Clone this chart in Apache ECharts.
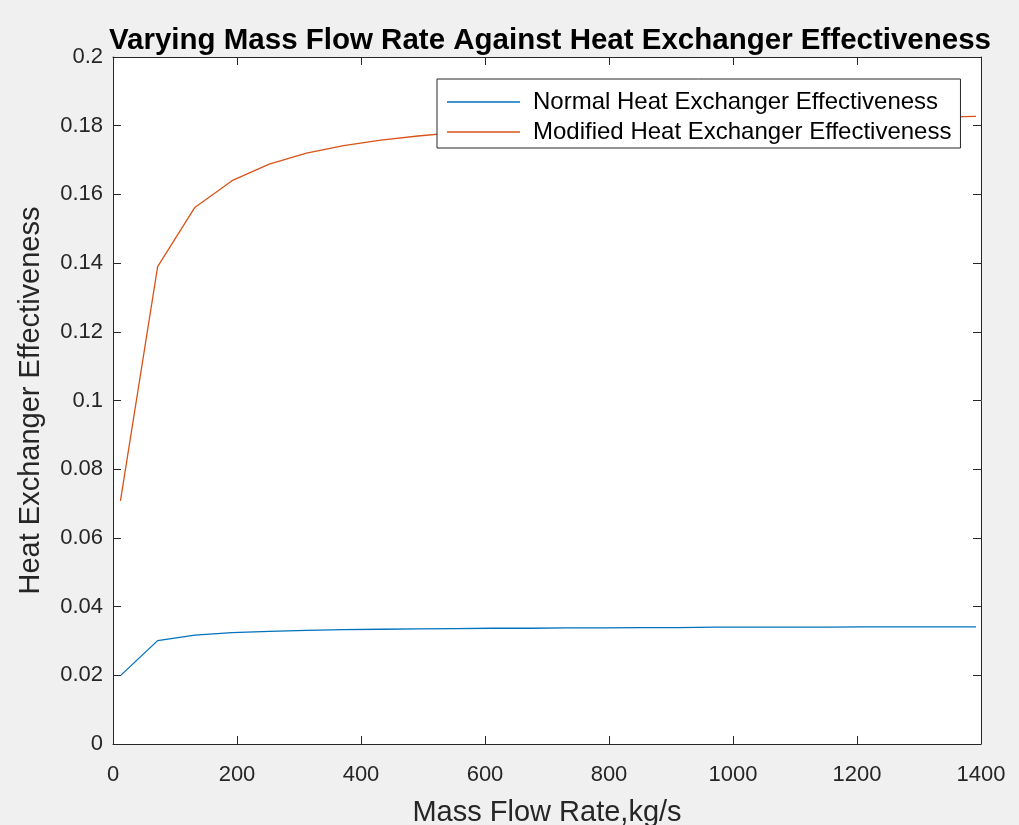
<!DOCTYPE html>
<html>
<head>
<meta charset="utf-8">
<script src="https://cdn.jsdelivr.net/npm/echarts@6/dist/echarts.min.js"></script>
<style>
html,body{margin:0;padding:0;background:#f0f0f0;}
#chart{width:1019px;height:825px;}
</style>
</head>
<body>
<div id="chart"></div>
<script>
const massFlow = [12,72,132,192,252,312,372,432,492,552,612,672,732,792,852,912,972,1032,1092,1152,1212,1272,1332,1392];
const normalEff = [0.0199,0.0301,0.0317,0.0324,0.0328,0.0331,0.0333,0.0334,0.0335,0.0336,0.0337,0.0337,0.0338,0.0338,0.0339,0.0339,0.0340,0.0340,0.0340,0.0340,0.0341,0.0341,0.0341,0.0341];
const modifiedEff = [0.0708,0.1390,0.1562,0.1640,0.1688,0.1720,0.1742,0.1758,0.1770,0.1780,0.1787,0.1793,0.1798,0.1802,0.1806,0.1810,0.1813,0.1816,0.1818,0.1820,0.1822,0.1824,0.1825,0.1827];
const seriesNames = ['Normal Heat Exchanger Effectiveness','Modified Heat Exchanger Effectiveness'];
const titleText = 'Varying Mass Flow Rate Against Heat Exchanger Effectiveness';
const xName = 'Mass Flow Rate,kg/s';
const yName = 'Heat Exchanger Effectiveness';

const ink = '#262626';
const font = 'Liberation Sans, Arial, Helvetica, sans-serif';
const chart = echarts.init(document.getElementById('chart'));
const pair = (xs, ys) => xs.map((x, i) => [x, ys[i]]);
const baseX = {type:'value', min:0, max:1400, interval:200,
  axisLine:{show:true, onZero:false, lineStyle:{color:ink, width:1}},
  axisTick:{show:true, inside:true, length:8, lineStyle:{color:ink}},
  splitLine:{show:false}};
const baseY = {type:'value', min:0, max:0.2, interval:0.02,
  axisLine:{show:true, onZero:false, lineStyle:{color:ink, width:1}},
  axisTick:{show:true, inside:true, length:8, lineStyle:{color:ink}},
  splitLine:{show:false}};
chart.setOption({
  backgroundColor:'#f0f0f0',
  animation:false,
  title:{text:titleText, left:545, textAlign:'center', top:21,
    textStyle:{fontFamily:font, fontSize:29.5, fontWeight:'bold', color:'#000'}},
  grid:{left:113, right:38, top:57, bottom:81, show:true, backgroundColor:'#ffffff', borderWidth:0,
    containLabel:false, outerBoundsMode:'none'},
  legend:{left:437, top:79, orient:'vertical', icon:'rect', itemWidth:73, itemHeight:1.5, itemGap:6,
    padding:[11,9,4,10], borderColor:ink, borderWidth:1, backgroundColor:'#ffffff', borderRadius:0,
    textStyle:{fontFamily:font, fontSize:24, lineHeight:24, color:'#000', padding:[0,0,0,8]},
    data:seriesNames},
  xAxis:[
    Object.assign({}, baseX, {position:'bottom', name:xName, nameLocation:'middle', nameGap:54,
      nameTextStyle:{fontFamily:font, fontSize:29, color:ink},
      axisLabel:{fontFamily:font, fontSize:22, color:ink, margin:20, formatter:(v)=>String(v)}}),
    Object.assign({}, baseX, {position:'top', axisLabel:{show:false}})
  ],
  yAxis:[
    Object.assign({}, baseY, {position:'left', name:yName, nameLocation:'middle', nameGap:68,
      nameTextStyle:{fontFamily:font, fontSize:29, color:ink},
      axisLabel:{fontFamily:font, fontSize:22, color:ink, margin:10}}),
    Object.assign({}, baseY, {position:'right', axisLabel:{show:false}})
  ],
  series:[
    {name:seriesNames[0], type:'line', data:pair(massFlow, normalEff), symbol:'none',
      lineStyle:{color:'#0072BD', width:1.3}, itemStyle:{color:'#0072BD'}},
    {name:seriesNames[1], type:'line', data:pair(massFlow, modifiedEff), symbol:'none',
      lineStyle:{color:'#D95319', width:1.3}, itemStyle:{color:'#D95319'}}
  ]
});
</script>
</body>
</html>
